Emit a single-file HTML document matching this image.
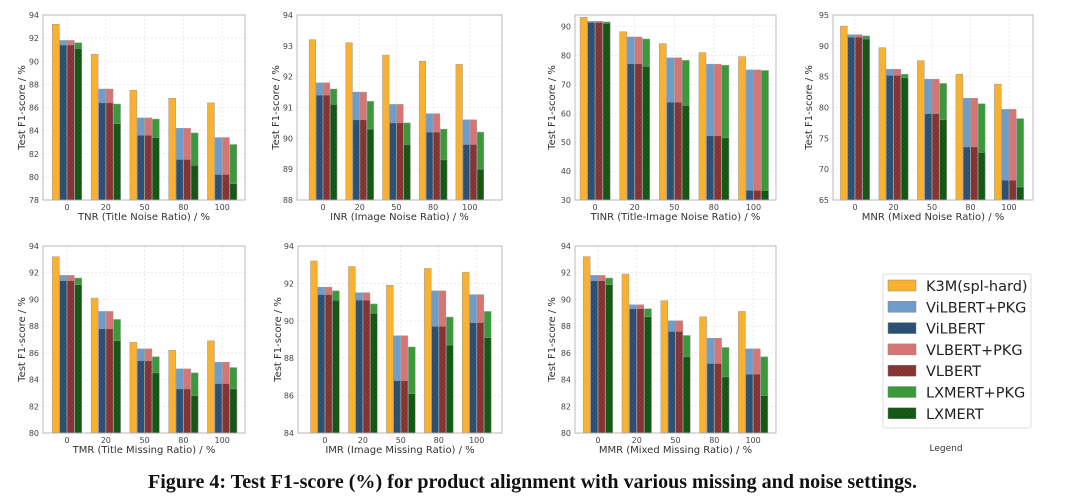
<!DOCTYPE html>
<html><head><meta charset="utf-8"><style>
body{margin:0;background:#fff;}
svg{display:block;font-family:"DejaVu Sans","Liberation Sans",sans-serif;}
</style></head><body>
<svg id="fig" width="1080" height="501" viewBox="0 0 1080 501" xmlns="http://www.w3.org/2000/svg">
<defs>
<pattern id="hatch" width="3" height="3" patternUnits="userSpaceOnUse" patternTransform="rotate(45)">
<line x1="0" y1="0" x2="0" y2="3" stroke="rgba(0,0,0,0.25)" stroke-width="1"/>
</pattern>
</defs>
<g id="charts"></g>
<g>
<rect x="883" y="274" width="148" height="154" fill="#fff" stroke="#ddd" rx="2"/>
<g id="legend-items"></g>
<text x="946" y="451" font-size="9" text-anchor="middle" fill="#333">Legend</text>
</g>
<text x="148" y="488" font-size="19.5" font-weight="bold" textLength="769" lengthAdjust="spacingAndGlyphs" font-family="'Liberation Serif',serif" fill="#111">Figure 4: Test F1-score (%) for product alignment with various missing and noise settings.</text>
</svg>
<script>
const categories = ["0","20","50","80","100"];
// TNR
const tnrK3M=[93.2,90.6,87.5,86.8,86.4], tnrViPKG=[91.8,87.6,85.1,84.2,83.4], tnrVi=[91.4,86.4,83.6,81.5,80.2], tnrVlPKG=[91.8,87.6,85.1,84.2,83.4], tnrVl=[91.4,86.4,83.6,81.5,80.2], tnrLxPKG=[91.6,86.3,85.0,83.8,82.8], tnrLx=[91.1,84.6,83.4,81.0,79.4];
// INR
const inrK3M=[93.2,93.1,92.7,92.5,92.4], inrViPKG=[91.8,91.5,91.1,90.8,90.6], inrVi=[91.4,90.6,90.5,90.2,89.8], inrVlPKG=[91.8,91.5,91.1,90.8,90.6], inrVl=[91.4,90.6,90.5,90.2,89.8], inrLxPKG=[91.6,91.2,90.5,90.3,90.2], inrLx=[91.1,90.3,89.8,89.3,89.0];
// TINR
const tinrK3M=[93.2,88.2,84.1,81.0,79.6], tinrViPKG=[91.8,86.4,79.2,77.0,75.0], tinrVi=[91.4,77.1,63.8,52.2,33.3], tinrVlPKG=[91.8,86.4,79.2,77.0,75.0], tinrVl=[91.4,77.1,63.8,52.2,33.3], tinrLxPKG=[91.6,85.7,78.3,76.6,74.8], tinrLx=[91.1,76.2,62.7,51.5,33.3];
// MNR
const mnrK3M=[93.2,89.7,87.6,85.4,83.8], mnrViPKG=[91.8,86.2,84.6,81.5,79.7], mnrVi=[91.4,85.2,79.0,73.6,68.2], mnrVlPKG=[91.8,86.2,84.6,81.5,79.7], mnrVl=[91.4,85.2,79.0,73.6,68.2], mnrLxPKG=[91.6,85.4,83.9,80.6,78.2], mnrLx=[91.1,84.8,78.0,72.7,67.1];
// TMR
const tmrK3M=[93.2,90.1,86.8,86.2,86.9], tmrViPKG=[91.8,89.1,86.3,84.8,85.3], tmrVi=[91.4,87.8,85.4,83.3,83.7], tmrVlPKG=[91.8,89.1,86.3,84.8,85.3], tmrVl=[91.4,87.8,85.4,83.3,83.7], tmrLxPKG=[91.6,88.5,85.7,84.5,84.9], tmrLx=[91.1,86.9,84.5,82.8,83.3];
// IMR
const imrK3M=[93.2,92.9,91.9,92.8,92.6], imrViPKG=[91.8,91.5,89.2,91.6,91.4], imrVi=[91.4,91.1,86.8,89.7,89.9], imrVlPKG=[91.8,91.5,89.2,91.6,91.4], imrVl=[91.4,91.1,86.8,89.7,89.9], imrLxPKG=[91.6,90.9,88.6,90.2,90.5], imrLx=[91.1,90.4,86.1,88.7,89.1];
// MMR
const mmrK3M=[93.2,91.9,89.9,88.7,89.1], mmrViPKG=[91.8,89.6,88.4,87.1,86.3], mmrVi=[91.4,89.3,87.6,85.2,84.4], mmrVlPKG=[91.8,89.6,88.4,87.1,86.3], mmrVl=[91.4,89.3,87.6,85.2,84.4], mmrLxPKG=[91.6,89.3,87.3,86.4,85.7], mmrLx=[91.1,88.7,85.7,84.2,82.8];
const tnrTicks=[78,80,82,84,86,88,90,92,94], inrTicks=[88,89,90,91,92,93,94], tinrTicks=[30,40,50,60,70,80,90], mnrTicks=[65,70,75,80,85,90,95], tmrTicks=[80,82,84,86,88,90,92,94], imrTicks=[84,86,88,90,92,94], mmrTicks=[80,82,84,86,88,90,92,94];
const legendLabels=["K3M(spl-hard)","ViLBERT+PKG","ViLBERT","VLBERT+PKG","VLBERT","LXMERT+PKG","LXMERT"];

const NS="http://www.w3.org/2000/svg";
function mk(tag,attrs,parent){const e=document.createElementNS(NS,tag);for(const k in attrs)e.setAttribute(k,attrs[k]);parent.appendChild(e);return e;}
const colors={k3m:"#fbb130",viP:"#6e9dcb",vi:"#2e5479",vlP:"#d77474",vl:"#8c3636",lxP:"#3a9a3a",lx:"#155c15"};
const panels=[
 {id:"tnr",L:43,R:245,T:15,B:200,ymin:78,ymax:94,ticks:tnrTicks,f0:0.119,fs:0.192,lab:"TNR (Title Noise Ratio) / %",ylx:25,d:[tnrK3M,tnrViPKG,tnrVi,tnrVlPKG,tnrVl,tnrLxPKG,tnrLx]},
 {id:"inr",L:297,R:502,T:15,B:200,ymin:88,ymax:94,ticks:inrTicks,f0:0.127,fs:0.179,lab:"INR (Image Noise Ratio) / %",ylx:279,d:[inrK3M,inrViPKG,inrVi,inrVlPKG,inrVl,inrLxPKG,inrLx]},
 {id:"tinr",L:575,R:776,T:15,B:200,ymin:30,ymax:94,ticks:tinrTicks,f0:0.1,fs:0.197,lab:"TINR (Title-Image Noise Ratio) / %",ylx:555,d:[tinrK3M,tinrViPKG,tinrVi,tinrVlPKG,tinrVl,tinrLxPKG,tinrLx]},
 {id:"mnr",L:833,R:1033,T:15,B:200,ymin:65,ymax:95,ticks:mnrTicks,f0:0.11,fs:0.1925,lab:"MNR (Mixed Noise Ratio) / %",ylx:812,d:[mnrK3M,mnrViPKG,mnrVi,mnrVlPKG,mnrVl,mnrLxPKG,mnrLx]},
 {id:"tmr",L:43,R:245,T:246,B:433,ymin:80,ymax:94,ticks:tmrTicks,f0:0.119,fs:0.192,lab:"TMR (Title Missing Ratio) / %",ylx:25,d:[tmrK3M,tmrViPKG,tmrVi,tmrVlPKG,tmrVl,tmrLxPKG,tmrLx]},
 {id:"imr",L:298,R:502,T:246,B:433,ymin:84,ymax:94,ticks:imrTicks,f0:0.132,fs:0.186,lab:"IMR (Image Missing Ratio) / %",ylx:281,d:[imrK3M,imrViPKG,imrVi,imrVlPKG,imrVl,imrLxPKG,imrLx]},
 {id:"mmr",L:575,R:776,T:246,B:433,ymin:80,ymax:94,ticks:mmrTicks,f0:0.114,fs:0.193,lab:"MMR (Mixed Missing Ratio) / %",ylx:555,d:[mmrK3M,mmrViPKG,mmrVi,mmrVlPKG,mmrVl,mmrLxPKG,mmrLx]}
];
const root=document.getElementById("charts");
panels.forEach(p=>{
 const g=mk("g",{},root);
 
 
 const W=p.R-p.L;
 const y=v=>p.B-(v-p.ymin)/(p.ymax-p.ymin)*(p.B-p.T);
 const xc=i=>p.L+W*(p.f0+i*p.fs);
 const s=W*p.fs, bw=s*0.18, step=s*0.193;
 p.ticks.forEach(t=>{
  const yy=y(t);
  const gl=mk("line",{x1:p.L,x2:p.R,y1:yy,y2:yy,stroke:"#e3e3e3","stroke-dasharray":"2,2","stroke-width":0.7},g);
  
  
  const tl=mk("text",{x:p.L-4,y:yy+3,"font-size":8,"text-anchor":"end",fill:"#444"},g);
  tl.textContent=t;
  
  
 });
 categories.forEach((c,i)=>{
  const xx=xc(i);
  const gl=mk("line",{x1:xx,x2:xx,y1:p.T,y2:p.B,stroke:"#e3e3e3","stroke-dasharray":"2,2","stroke-width":0.7},g);
  
  
  const tl=mk("text",{x:xx,y:p.B+10,"font-size":8,"text-anchor":"middle",fill:"#444"},g);
  tl.textContent=c;
  
  
 });
 const slots=[[0,null],[1,2],[3,4],[5,6]];
 const cl=[[colors.k3m],[colors.viP,colors.vi],[colors.vlP,colors.vl],[colors.lxP,colors.lx]];
 categories.forEach((c,i)=>{
  slots.forEach((sl,k)=>{
   const bx=xc(i)+(k-1.5)*step-bw/2;
   const v1=p.d[sl[0]][i];
   const r1=mk("rect",{x:bx,y:y(v1),width:bw,height:p.B-y(v1),fill:cl[k][0],stroke:"#999","stroke-width":0.5},g);
   
   
   if(sl[1]!==null){
    const v2=p.d[sl[1]][i];
    const r2=mk("rect",{x:bx,y:y(v2),width:bw,height:p.B-y(v2),fill:cl[k][1],stroke:"#999","stroke-width":0.5},g);
    
    
    mk("rect",{x:bx,y:y(v2),width:bw,height:p.B-y(v2),fill:"url(#hatch)"},g);
   }
  });
 });
 const fr=mk("rect",{x:p.L,y:p.T,width:W,height:p.B-p.T,fill:"none",stroke:"#aaa","stroke-width":0.8},g);
 
 
 const xl=mk("text",{x:(p.L+p.R)/2,y:p.B+20,"font-size":10,"text-anchor":"middle",fill:"#333"},g);
 xl.textContent=p.lab;
 
 
 const yl=mk("text",{x:0,y:0,"font-size":10,"text-anchor":"middle",fill:"#333",transform:`translate(${p.ylx},${(p.T+p.B)/2}) rotate(-90)`},g);
 yl.textContent="Test F1-score / %";
 
 
});
const lg=document.getElementById("legend-items");
const lcol=[colors.k3m,colors.viP,colors.vi,colors.vlP,colors.vl,colors.lxP,colors.lx];
legendLabels.forEach((t,i)=>{
 const yy=286+i*21.3;
 const e=mk("g",{},lg);
 
 
 mk("rect",{x:888,y:yy-6,width:28,height:11,fill:lcol[i],stroke:"#888","stroke-width":0.5},e);
 if(i===2||i===4||i===6) mk("rect",{x:888,y:yy-6,width:28,height:11,fill:"url(#hatch)"},e);
 const tx=mk("text",{x:926,y:yy+5,"font-size":14.5,fill:"#222"},e);
 tx.textContent=t;
});
</script>
</body></html>
